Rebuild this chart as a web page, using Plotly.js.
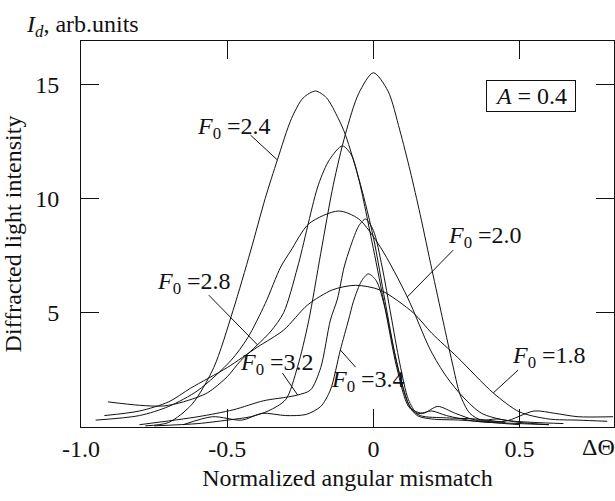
<!DOCTYPE html>
<html>
<head>
<meta charset="utf-8">
<script src="https://cdn.plot.ly/plotly-3.0.1.min.js"></script>
<style>html,body{margin:0;padding:0;background:#fff}#chart{width:615px;height:501px}</style>
</head>
<body>
<div id="chart"></div>
<script>
// x tick marks and labels
const xTickVals = [-1, -0.5, 0, 0.5];
const xTickText = ['-1.0', '-0.5', '0', '0.5'];
const yTickVals = [5, 10, 15];

// Unlabelled tallest curve
const topX = [-0.75, -0.6, -0.5, -0.42, -0.36, -0.3, -0.26, -0.222, -0.18, -0.137, -0.096, -0.05, 0.0, 0.05, 0.09, 0.126, 0.16, 0.2, 0.239, 0.27, 0.297, 0.33, 0.37, 0.42, 0.5, 0.6];
const topY = [0.05, 0.15, 0.3, 0.45, 0.7, 1.2, 2.6, 4.6, 7.6, 10.6, 12.8, 14.6, 15.5, 14.7, 13.0, 11.2, 9.3, 6.9, 4.6, 2.8, 1.4, 0.6, 0.3, 0.35, 0.2, 0.1];

// F0 = 2.4
const f24X = [-0.78, -0.7, -0.62, -0.546, -0.48, -0.42, -0.37, -0.328, -0.28, -0.24, -0.198, -0.16, -0.12, -0.096, -0.044, 0.0, 0.04, 0.08, 0.12, 0.15, 0.2, 0.3, 0.4, 0.5];
const f24Y = [0.05, 0.2, 1.0, 2.6, 5.1, 7.7, 10.0, 11.7, 13.5, 14.4, 14.7, 14.4, 13.5, 12.8, 10.6, 8.3, 5.5, 2.8, 1.0, 0.5, 0.35, 0.3, 0.2, 0.1];

// F0 = 2.8
const f28X = [-0.908, -0.8, -0.717, -0.65, -0.567, -0.5, -0.454, -0.396, -0.35, -0.307, -0.259, -0.188, -0.15, -0.106, -0.075, -0.051, 0.0, 0.04, 0.08, 0.12, 0.16, 0.25, 0.35, 0.45];
const f28Y = [1.1, 0.95, 0.92, 1.1, 1.5, 2.2, 2.9, 3.6, 4.2, 5.0, 7.0, 10.6, 11.7, 12.3, 11.9, 10.9, 7.8, 5.2, 2.6, 0.9, 0.5, 0.4, 0.35, 0.2];

// F0 = 2.0
const f20X = [-0.95, -0.8, -0.7, -0.6, -0.488, -0.43, -0.37, -0.317, -0.283, -0.22, -0.119, -0.05, 0.024, 0.116, 0.195, 0.25, 0.307, 0.37, 0.45, 0.55, 0.65];
const f20Y = [0.3, 0.5, 0.9, 1.6, 2.9, 3.9, 5.4, 7.0, 7.7, 8.9, 9.45, 9.1, 7.87, 5.69, 3.37, 2.2, 1.31, 0.6, 0.3, 0.2, 0.15];

// F0 = 1.8
const f18X = [-0.92, -0.8, -0.7, -0.625, -0.5, -0.396, -0.307, -0.225, -0.14, -0.061, 0.024, 0.137, 0.2, 0.287, 0.41, 0.5, 0.6, 0.7, 0.8];
const f18Y = [0.5, 0.7, 1.1, 1.7, 2.6, 3.5, 4.24, 5.34, 6.0, 6.2, 5.99, 4.99, 4.1, 3.06, 1.49, 0.66, 0.35, 0.3, 0.25];

// F0 = 3.2
const f32X = [-0.8, -0.6, -0.48, -0.375, -0.3, -0.259, -0.215, -0.18, -0.147, -0.123, -0.1, -0.078, -0.05, -0.027, 0.0, 0.03, 0.06, 0.09, 0.12, 0.15, 0.2, 0.25, 0.35, 0.5, 0.6];
const f32Y = [0.1, 0.45, 0.75, 1.15, 1.3, 1.4, 1.62, 2.6, 4.68, 5.6, 7.0, 7.9, 8.8, 9.1, 8.6, 7.0, 4.9, 2.8, 1.2, 0.6, 0.7, 0.5, 0.25, 0.15, 0.1];

// F0 = 3.4
const f34X = [-0.65, -0.55, -0.45, -0.38, -0.3, -0.23, -0.18, -0.147, -0.113, -0.085, -0.068, -0.04, -0.017, 0.01, 0.04, 0.07, 0.1, 0.13, 0.17, 0.22, 0.28, 0.35, 0.45, 0.55, 0.62, 0.7, 0.82];
const f34Y = [0.1, 0.45, 0.3, 0.6, 0.5, 0.55, 0.9, 1.62, 3.37, 4.68, 5.5, 6.4, 6.7, 6.4, 5.2, 3.4, 1.8, 0.8, 0.6, 0.9, 0.6, 0.3, 0.25, 0.7, 0.6, 0.45, 0.45];

const series = [
  {name: 'top', x: topX, y: topY},
  {name: 'F0=2.4', x: f24X, y: f24Y},
  {name: 'F0=2.8', x: f28X, y: f28Y},
  {name: 'F0=2.0', x: f20X, y: f20Y},
  {name: 'F0=1.8', x: f18X, y: f18Y},
  {name: 'F0=3.2', x: f32X, y: f32Y},
  {name: 'F0=3.4', x: f34X, y: f34Y}
];

const traces = series.map(s => ({
  type: 'scatter', mode: 'lines', name: s.name, x: s.x, y: s.y,
  line: {color: '#111', width: 1, shape: 'spline', smoothing: 0.8},
  hoverinfo: 'skip'
}));

const F = 'Liberation Serif, Times New Roman, serif';

function lbl(text, x, y) {
  return {text: text, x: x, y: y, xref: 'x', yref: 'y', showarrow: false,
          xanchor: 'center', yanchor: 'middle', font: {family: F, size: 24, color: '#111'}};
}
function ptr(x0, y0, x1, y1) {
  return {type: 'line', xref: 'x', yref: 'y', x0: x0, y0: y0, x1: x1, y1: y1,
          line: {color: '#111', width: 1}};
}

const layout = {
  width: 615, height: 501,
  margin: {l: 81, r: 1, t: 41, b: 74},
  paper_bgcolor: '#fff', plot_bgcolor: '#fff',
  font: {family: F, size: 24, color: '#111'},
  showlegend: false,
  title: {text: '<i>I</i><sub><i>d</i></sub>, arb.units', x: 27/615, xanchor: 'left', xref: 'container',
          y: 1 - 24/501, yanchor: 'middle', yref: 'container', font: {family: F, size: 24, color: '#111'}},
  xaxis: {
    range: [-1.0, 0.823], tickvals: xTickVals, ticktext: xTickText,
    ticks: 'inside', ticklen: 18, tickwidth: 1, tickcolor: '#111',
    showline: true, linecolor: '#111', linewidth: 1, mirror: 'ticks',
    showgrid: false, zeroline: false, ticklabelstandoff: 0,
    tickfont: {family: F, size: 24, color: '#111'},
    title: {text: 'Normalized angular mismatch', standoff: 8, font: {family: F, size: 24, color: '#111'}}
  },
  yaxis: {
    range: [0, 16.89], tickvals: yTickVals,
    ticks: 'inside', ticklen: 18, tickwidth: 1, tickcolor: '#111',
    showline: true, linecolor: '#111', linewidth: 1, mirror: 'ticks',
    showgrid: false, zeroline: false, ticklabelstandoff: 16,
    tickfont: {family: F, size: 24, color: '#111'},
    title: {text: 'Diffracted light intensity', standoff: 8, font: {family: F, size: 24, color: '#111'}}
  },
  annotations: [
    lbl('<i>F</i><sub>0</sub> =2.4', -0.478, 13.08),
    lbl('<i>F</i><sub>0</sub> =2.8', -0.614, 6.3),
    lbl('<i>F</i><sub>0</sub> =3.2', -0.328, 2.76),
    lbl('<i>F</i><sub>0</sub> =3.4', -0.017, 2.01),
    lbl('<i>F</i><sub>0</sub> =2.0', 0.382, 8.31),
    lbl('<i>F</i><sub>0</sub> =1.8', 0.601, 3.06),
    {text: '<i>A</i> = 0.4', xref: 'paper', yref: 'paper', x: (531-81)/533, y: (427-96)/386,
     xanchor: 'center', yanchor: 'middle', showarrow: false, bordercolor: '#111', borderwidth: 1,
     borderpad: 2, width: 84, font: {family: F, size: 24, color: '#111'}},
    {text: '\u0394\u0398', xref: 'paper', yref: 'paper', x: (598-81)/533, y: (427-447)/386,
     xanchor: 'center', yanchor: 'middle', showarrow: false, font: {family: F, size: 24, color: '#111'}}
  ],
  shapes: [
    ptr(-0.42, 12.77, -0.328, 11.68),
    ptr(-0.563, 5.77, -0.396, 3.59),
    ptr(-0.311, 2.36, -0.259, 1.40),
    ptr(-0.061, 2.62, -0.113, 3.37),
    ptr(0.273, 7.74, 0.116, 5.69),
    ptr(0.495, 2.49, 0.41, 1.49)
  ]
};

Plotly.newPlot('chart', traces, layout, {displayModeBar: false, staticPlot: true});
</script>
</body>
</html>
